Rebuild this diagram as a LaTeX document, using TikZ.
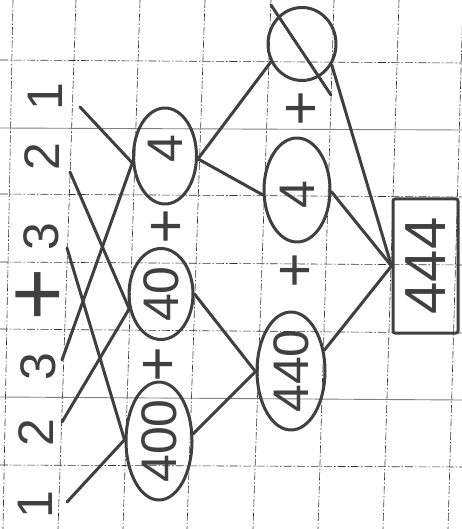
\documentclass[tikz,border=0pt]{standalone}
\usepackage{fontspec}
\setmainfont{Liberation Sans}
\usetikzlibrary{shapes.geometric}
\definecolor{inkc}{gray}{0.25}
\tikzset{
  ink/.style={draw=inkc, line width=3pt, line cap=round, line join=round},
  oval/.style={ellipse, ink, inner sep=0pt, text=inkc, font=\fontsize{50}{50}\selectfont},
  digit/.style={inner sep=0pt, text=inkc, font=\fontsize{50}{50}\selectfont},
  plussign/.style={inner sep=0pt, text=inkc, font=\fontsize{60}{60}\selectfont},
  bigplus/.style={inner sep=0pt, text=inkc, font=\fontsize{90}{90}\selectfont},
  resultbox/.style={rectangle, ink, rounded corners=2pt, inner sep=0pt, text=inkc, font=\fontsize{58}{58}\selectfont},
  wire/.style={ink},
  gridA/.style={draw=black!80, line width=0.6pt, dash pattern=on 8pt off 2pt on 1.5pt off 2pt},
  gridB/.style={draw=black!50, line width=0.9pt},
}
\begin{document}
\begin{tikzpicture}[x=1pt,y=-1pt]
\useasboundingbox (0,0) rectangle (462,529);
\fill[white] (0,0) rectangle (462,529);
% grid paper
\draw[gridA] (13,0) -- (3,529);
\draw[gridA] (76,0) -- (58,529);
\draw[gridA] (140,0) -- (123,529);
\draw[gridA] (205,0) -- (187,529);
\draw[gridA] (271,0) -- (253,529);
\draw[gridA] (334,0) -- (318,529);
\draw[gridA] (399,0) -- (383,529);
\draw[gridA] (463,0) -- (448,529);
\draw[gridA] (0,60) -- (462,63);
\draw[gridB] (0,128) -- (462,130);
\draw[gridA] (0,194) -- (462,197);
\draw[gridA] (0,262) -- (462,265);
\draw[gridA] (0,329) -- (462,333);
\draw[gridB] (0,397) -- (462,400);
\draw[gridA] (0,465) -- (462,467);

% column 1: 123 + 321 (rotated)
\node[digit] (n1a) at (35,505) {\rotatebox{90}{1}};
\node[digit] (n2a) at (36,433) {\rotatebox{90}{2}};
\node[digit] (n3a) at (38,367) {\rotatebox{90}{3}};
\node[bigplus] (pa) at (38,299) {+};
\node[digit] (n3b) at (41,237) {\rotatebox{90}{3}};
\node[digit] (n2b) at (42,157) {\rotatebox{90}{2}};
\node[digit] (n1b) at (45,97) {\rotatebox{90}{1}};

% free ends of the strokes next to the digits
\coordinate (s1b) at (80,107);
\coordinate (s2b) at (70,172);
\coordinate (s3b) at (67,248);
\coordinate (s3a) at (62,360);
\coordinate (s2a) at (62,422);
\coordinate (s1a) at (67,502);

% column 2
\node[oval, minimum width=63pt, minimum height=96pt] (e4) at (165,156) {\rotatebox{90}{\hspace{14pt}4}};
\node[plussign] (pb) at (166,229) {+};
\node[oval, minimum width=64pt, minimum height=91pt] (e40) at (161,294) {\rotatebox{90}{40}};
\node[plussign] (pc) at (158,367) {+};
\node[oval, minimum width=66pt, minimum height=105pt] (e400) at (159,441) {\rotatebox{90}{400}};

% column 3
\node[oval, minimum width=68pt, minimum height=73pt] (c0) at (302,44) {};
\node[plussign] (pd) at (301,111) {+};
\node[oval, minimum width=66pt, minimum height=104pt] (f4) at (297,190) {\rotatebox{90}{4\hspace{10pt}}};
\node[plussign] (pe) at (295,273) {+};
\node[oval, minimum width=68pt, minimum height=111pt] (e440) at (291,371) {\rotatebox{90}{440}};

% result
\node[resultbox, minimum width=65pt, minimum height=134pt] (box) at (425.5,266) {\rotatebox{90}{444}};

% slash through the empty circle
\draw[wire] ([shift={(-31,-39)}]c0.center) -- ([shift={(29,51)}]c0.center);

% connectors column 1 -> column 2
\draw[wire] (s1b) -- (e4.192);
\draw[wire] (s3a) -- (e4.192);
\draw[wire] (s2b) -- (e40.205);
\draw[wire] (s2a) -- (e40.205);
\draw[wire] (s3b) -- (e400.178);
\draw[wire] (s1a) -- (e400.178);

% column 2 -> column 3
\draw[wire] (e4.-5) -- (c0.210);
\draw[wire] (e4.-5) -- (f4.188);
\draw[wire] (e40.0) -- (e440.181);
\draw[wire] (e400.12) -- (e440.181);

% column 3 -> result
\draw[wire] (c0.-35) -- (box.west);
\draw[wire] (f4.-3) -- (box.west);
\draw[wire] (e440.32) -- (box.west);
\end{tikzpicture}
\end{document}
